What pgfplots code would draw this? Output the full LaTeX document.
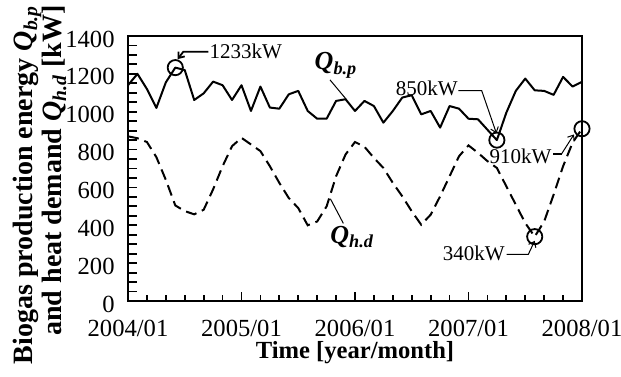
\documentclass[border=0pt]{standalone}
\usepackage{fontspec}
\setmainfont{Liberation Serif}
\usepackage{pgfplots}
\usepackage{pgfplotstable}
\pgfplotsset{compat=1.18}
\usetikzlibrary{arrows.meta}

\pgfplotstableread{
k qbp qhd
0 1140 870
1 1200 860
2 1120 840
3 1020 760
4 1155 640
5 1233 505
6 1220 475
7 1062 458
8 1097 482
9 1159 590
10 1140 712
11 1062 818
12 1140 862
13 1004 827
14 1133 792
15 1022 712
16 1016 624
17 1092 544
18 1110 491
19 1004 400
20 963 420
21 963 500
22 1057 659
23 1066 774
24 1004 840
25 1057 815
26 1030 756
27 942 703
28 1004 624
29 1075 553
30 1087 474
31 986 403
32 1004 456
33 916 553
34 1030 659
35 1016 765
36 963 822
37 960 783
38 905 739
39 850 703
40 995 606
41 1110 509
42 1175 412
43 1113 340
44 1110 420
45 1089 562
46 1184 712
47 1133 836
48 1158 910
}\datatable

\pgfplotstableread{
k v
5 1233
39 850
43 340
48 910
}\circtable

\begin{document}
\begin{tikzpicture}
\useasboundingbox (-64pt,-37.5pt) rectangle (246.5pt,150.5pt);
\begin{axis}[
  at={(0,0)}, anchor=south west,
  width=227pt, height=132.5pt, scale only axis,
  xmin=0, xmax=48, ymin=0, ymax=1400,
  clip=false,
  xtick={0,12,24,36,48},
  xticklabels={2004/01,2005/01,2006/01,2007/01,2008/01},
  minor xtick={2,4,...,46},
  ytick={0,50,...,1400},
  yticklabels={0,,,,200,,,,400,,,,600,,,,800,,,,1000,,,,1200,,,,1400},
  tick align=inside,
  xtick pos=bottom, ytick pos=left,
  major tick length=4.5pt, minor tick length=3pt,
  every tick/.style={black, line width=0.9pt},
  axis line style={line width=1.2pt},
  tick label style={font=\fontsize{12.3}{14}\selectfont, inner sep=0.5pt},
  xticklabel style={yshift=-9pt},
  yticklabel style={xshift=-6pt, yshift=-1.5pt},
  /pgf/number format/assume math mode=true,
  /pgf/number format/1000 sep={},
  xlabel={\bfseries Time [year/month]},
  xlabel style={font=\fontsize{12.3}{14}\selectfont, at={(axis description cs:0.5,0)}, anchor=north, inner sep=0pt, yshift=-20pt},
]
\addplot[black, line width=1pt, line join=round] table[x=k, y=qbp] {\datatable};
\addplot[black, line width=1pt, dash pattern=on 5.5pt off 3pt] table[x=k, y=qhd] {\datatable};
\addplot[only marks, mark=o, mark size=3.8pt, mark options={line width=0.9pt, black}] table[x=k, y=v] {\circtable};

% annotations
\node[anchor=west, inner sep=0pt, font=\fontsize{10.5}{12}\selectfont] at (axis cs:8.6,1317) {1233kW};
\draw[line width=0.9pt, -{Straight Barb[length=2.5pt, width=4pt]}] (axis cs:8.49,1317) -- (axis cs:5.85,1317) -- (axis cs:5.25,1278);

\node[anchor=east, inner sep=0pt, font=\fontsize{10.5}{12}\selectfont] at (axis cs:34.9,1122) {850kW};
\draw[line width=0.5pt, -{Straight Barb[length=2.5pt, width=4pt]}] (axis cs:34.93,1111) -- (axis cs:37.4,1111) -- (axis cs:38.95,886);

\node[anchor=east, inner sep=0pt, font=\fontsize{10.5}{12}\selectfont] at (axis cs:44.8,766) {910kW};
\draw[line width=0.9pt] (axis cs:44.97,778) -- (axis cs:45.85,778);
\draw[line width=0.5pt, -{Straight Barb[length=2.5pt, width=4pt]}] (axis cs:45.85,778) -- (axis cs:47.15,880);

\node[anchor=east, inner sep=0pt, font=\fontsize{10.5}{12}\selectfont] at (axis cs:39.86,254) {340kW};
\draw[line width=0.5pt, -{Straight Barb[length=2.5pt, width=4pt]}] (axis cs:40.04,247) -- (axis cs:42.33,247) -- (axis cs:43.0,318);

\node[anchor=base west, inner sep=0pt, font=\fontsize{13}{15}\selectfont\bfseries\itshape] at (axis cs:19.7,1222) {Q\textsubscript{b.p}};
\draw[line width=0.5pt] (axis cs:21.36,1168) -- (axis cs:23.1,1064);

\node[anchor=base west, inner sep=0pt, font=\fontsize{13}{15}\selectfont\bfseries\itshape] at (axis cs:21.36,306) {Q\textsubscript{h.d}};
\draw[line width=0.5pt] (axis cs:22.77,410) -- (axis cs:21.4,540);
\end{axis}
\node[rotate=90, anchor=north east, inner sep=0pt, align=right, font=\fontsize{14}{14.5}\selectfont\bfseries] at (-57.5pt,148pt) {Biogas production energy \textit{Q}\textsubscript{\textit{b.p}}\\and heat demand \textit{Q}\textsubscript{\textit{h.d}} [kW]};
\end{tikzpicture}
\end{document}
